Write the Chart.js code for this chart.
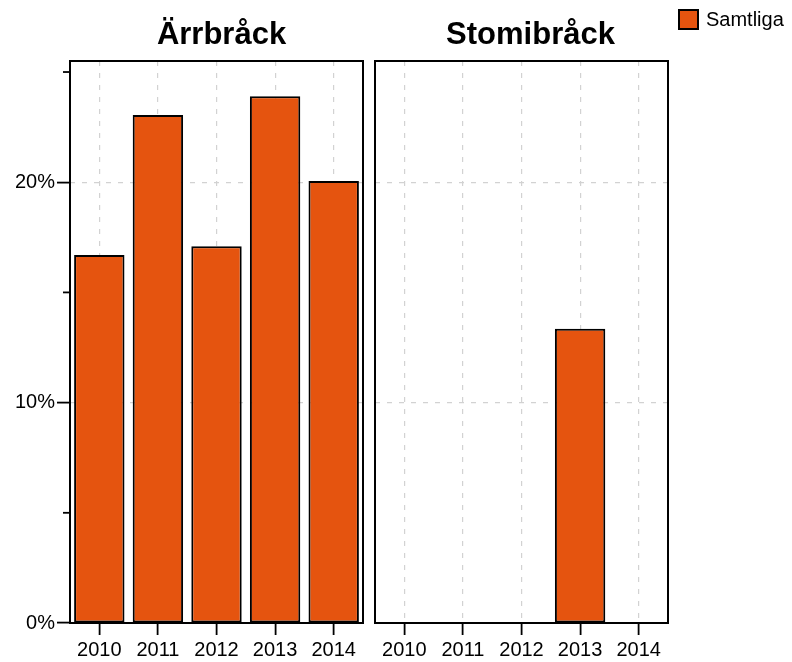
<!DOCTYPE html>
<html>
<head>
<meta charset="utf-8">
<script src="https://cdn.jsdelivr.net/npm/chart.js@4.4.1/dist/chart.umd.min.js"></script>
<style>
  html, body { margin: 0; padding: 0; background: #fff; }
  #wrap { position: relative; width: 792px; height: 662px; overflow: hidden; font-family: "Liberation Sans", Arial, sans-serif; }
  canvas { position: absolute; left: 0; top: 0; }
  #legend { position: absolute; left: 678px; top: 9px; height: 21px; display: flex; align-items: center; }
  #legend .sw { width: 21px; height: 21px; box-sizing: border-box; border: 2px solid #000; background: #E5540F; }
  #legend .lb { margin-left: 7px; font-size: 20px; color: #000; line-height: 21px; }
</style>
</head>
<body>
<div id="wrap">
  <canvas id="c1" width="792" height="662"></canvas>
  <canvas id="c2" width="792" height="662"></canvas>
  <div id="legend"><div class="sw"></div><div class="lb">Samtliga</div></div>
</div>
<script>
// ---- data ----
const years = ["2010", "2011", "2012", "2013", "2014"];
const panelTitles = ["Ärrbråck", "Stomibråck"];
const seriesName = "Samtliga";
const arrbrack = [16.7, 23.05, 17.1, 23.9, 20.05];
const stomibrack = [null, null, null, 13.35, null];
const yMajorTicks = [0, 10, 20];
const yMinorTicks = [5, 15, 25];
const yMax = 25.5;

const FONT = '"Liberation Sans", Arial, sans-serif';
const ORANGE = '#E5540F';
const GRID = '#d2d2d2';

const panelPlugin = {
  id: 'panel',
  afterDraw(chart, args, opts) {
    const ctx = chart.ctx, a = chart.chartArea;
    ctx.save();
    ctx.strokeStyle = '#000';
    ctx.lineWidth = 2;
    ctx.setLineDash([]);
    ctx.strokeRect(a.left, a.top, a.right - a.left, a.bottom - a.top);
    if (opts.minor) {
      const y = chart.scales.y;
      ctx.lineWidth = 1.8;
      yMinorTicks.forEach(v => {
        const py = y.getPixelForValue(v);
        ctx.beginPath();
        ctx.moveTo(a.left - 7, py);
        ctx.lineTo(a.left, py);
        ctx.stroke();
      });
    }
    ctx.fillStyle = '#000';
    ctx.font = 'bold 31px ' + FONT;
    ctx.textAlign = 'center';
    ctx.textBaseline = 'alphabetic';
    ctx.fillText(opts.title, (a.left + a.right) / 2 + (opts.dx || 0), 44);
    ctx.restore();
  }
};

function makeChart(id, data, title, padL, padR, showY) {
  return new Chart(document.getElementById(id), {
    type: 'bar',
    data: {
      labels: years,
      datasets: [{
        label: seriesName,
        data: data,
        backgroundColor: ORANGE,
        borderColor: '#000',
        borderWidth: 2,
        borderSkipped: false,
        barPercentage: 0.86,
        categoryPercentage: 1.0
      }]
    },
    options: {
      responsive: false,
      animation: false,
      events: [],
      layout: { padding: { left: padL, right: padR, top: 61, bottom: 0 } },
      plugins: {
        legend: { display: false },
        tooltip: { enabled: false },
        panel: { title: title, minor: showY, dx: showY ? 5 : 9 }
      },
      scales: {
        x: {
          offset: true,
          afterFit: s => { s.height = 39; },
          grid: {
            offset: false,
            color: GRID,
            lineWidth: 1.2,
            drawTicks: true,
            tickLength: 12,
            tickColor: '#000',
            tickWidth: 1.8,
            tickBorderDash: []
          },
          border: { display: false, dash: [5, 7] },
          ticks: { color: '#000', font: { family: FONT, size: 20 }, padding: 3, maxRotation: 0 }
        },
        y: {
          min: 0,
          max: yMax,
          afterBuildTicks: s => { s.ticks = yMajorTicks.map(v => ({ value: v })); },
          afterFit: s => { s.width = showY ? 70 : 0; },
          grid: {
            color: GRID,
            lineWidth: 1.2,
            drawTicks: showY,
            tickLength: 13,
            tickColor: '#000',
            tickWidth: 1.8,
            tickBorderDash: []
          },
          border: { display: false, dash: [5, 7] },
          ticks: {
            display: showY,
            color: '#000',
            font: { family: FONT, size: 20 },
            padding: 2,
            callback: v => v + '%'
          }
        }
      }
    },
    plugins: [panelPlugin]
  });
}

makeChart('c1', arrbrack, panelTitles[0], 0, 792 - 363, true);
makeChart('c2', stomibrack, panelTitles[1], 375, 792 - 668, false);
</script>
</body>
</html>
